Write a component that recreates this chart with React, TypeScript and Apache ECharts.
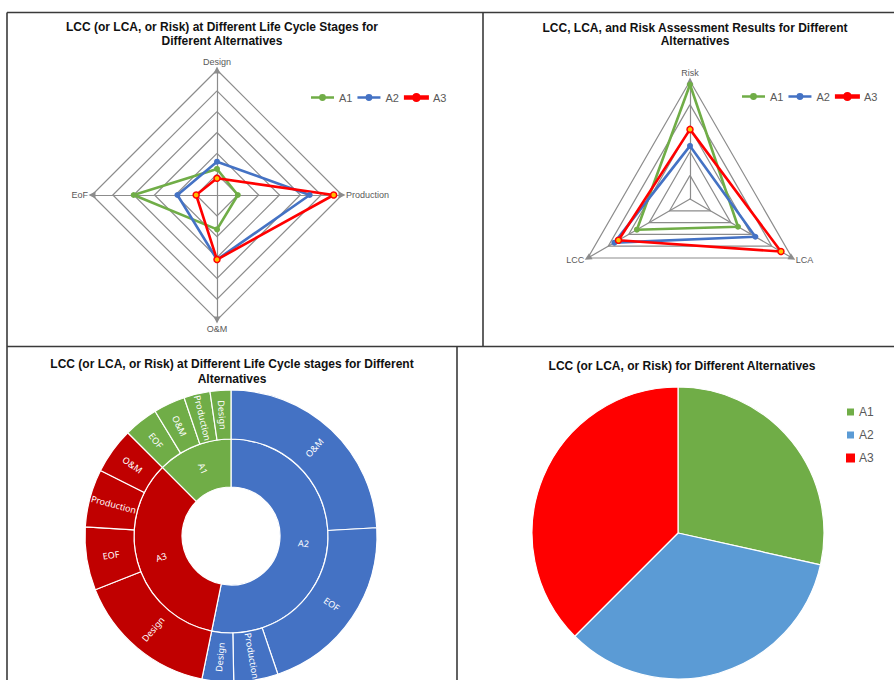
import React, { useEffect, useRef } from 'react';
import * as echarts from 'echarts';

// ---------- data ----------
const alternatives = ['A1', 'A2', 'A3'];
const altLineColors = ['#70AD47', '#4472C4', '#FF0000'];

// radar 1: life cycle stages (counter-clockwise from top)
const stageAxes = ['Design', 'EoF', 'O&M', 'Production'];
const stageA1 = [1.25, 4.0, 1.65, 1.0];
const stageA2 = [1.6, 1.9, 3.1, 4.45];
const stageA3 = [0.8, 1.0, 3.1, 5.6];
const stageMax = 6;

// radar 2: assessment criteria (counter-clockwise from top)
const criteriaAxes = ['Risk', 'LCC', 'LCA'];
const criteriaA1 = [4.85, 2.6, 2.35];
const criteriaA2 = [2.25, 3.7, 3.2];
const criteriaA3 = [2.95, 3.5, 4.45];
const criteriaMax = 5;

// sunburst
const sunburstParents = ['A2', 'A3', 'A1'];
const sunburstColors = ['#4472C4', '#C00000', '#70AD47'];
const a2Stages = ['O&M', 'EOF', 'Production', 'Design'];
const a2StageValues = [24.1, 20.7, 4.9, 3.5];
const a3Stages = ['Design', 'EOF', 'Production', 'O&M'];
const a3StageValues = [15.8, 7.0, 6.4, 5.1];
const a1Stages = ['EOF', 'O&M', 'Production', 'Design'];
const a1StageValues = [3.8, 3.5, 2.9, 2.3];

// pie
const pieNames = ['A1', 'A2', 'A3'];
const pieValues = [28.5, 34, 37.5];
const pieColors = ['#70AD47', '#5B9BD5', '#FF0000'];

// titles
const title1 = 'LCC (or LCA, or Risk) at Different Life Cycle Stages for\nDifferent Alternatives';
const title2 = 'LCC, LCA, and Risk Assessment Results for Different\nAlternatives';
const title3 = 'LCC (or LCA, or Risk) at Different Life Cycle stages for Different\nAlternatives';
const title4 = 'LCC (or LCA, or Risk) for Different Alternatives';

const LINE_ICON = 'path://M0,3H20V5H0Z M7,4a3,3 0 1,1 6,0a3,3 0 1,1 -6,0Z';

export default function App() {
  const ref = useRef<HTMLDivElement>(null);

  useEffect(() => {
    document.body.style.margin = '0';
    const chart = echarts.init(ref.current!, null, { renderer: 'svg', width: 894, height: 680 });

    const stageSeries = [stageA1, stageA2, stageA3];
    const criteriaSeries = [criteriaA1, criteriaA2, criteriaA3];

    const radarItem = (vals: number[], i: number) => ({
      name: alternatives[i],
      value: vals,
      symbol: 'circle',
      symbolSize: 6,
      lineStyle: { color: altLineColors[i], width: 2.6 },
      itemStyle:
        i === 2
          ? { color: '#FFC000', borderColor: '#FF0000', borderWidth: 1.5 }
          : { color: altLineColors[i] },
    });

    const radarCommon = {
      shape: 'polygon',
      startAngle: 90,
      axisName: { color: '#595959', fontSize: 9, fontFamily: 'Liberation Sans' },
      nameGap: 4,
      splitArea: { show: false },
      splitLine: { lineStyle: { color: '#8C8C8C', width: 1.2 } },
      axisLine: {
        lineStyle: { color: '#8C8C8C', width: 1.2 },
        symbol: ['none', 'triangle'],
        symbolSize: [7, 7],
      },
    };

    const legendRadarData = alternatives.map((n, i) => ({
      name: n,
      itemStyle: { color: altLineColors[i] },
    }));

    const buildChildren = (names: string[], vals: number[], color: string) =>
      names.map((n, i) => ({ name: n, value: vals[i], itemStyle: { color } }));

    const childNames = [a2Stages, a3Stages, a1Stages];
    const childVals = [a2StageValues, a3StageValues, a1StageValues];
    const sunburstData = sunburstParents.map((p, i) => ({
      name: p,
      itemStyle: { color: sunburstColors[i] },
      children: buildChildren(childNames[i], childVals[i], sunburstColors[i]),
    }));

    const titleText = (text: string, x: number, y: number, lh: number) => ({
      type: 'text',
      x,
      y,
      silent: true,
      style: {
        text,
        fill: '#111',
        font: 'bold 12px "Liberation Sans", Arial, sans-serif',
        textAlign: 'center',
        align: 'center',
        textVerticalAlign: 'top',
        verticalAlign: 'top',
        lineHeight: lh,
      },
    });

    const border = (x1: number, y1: number, x2: number, y2: number) => ({
      type: 'line',
      silent: true,
      shape: { x1, y1, x2, y2 },
      style: { stroke: '#3A3A3A', lineWidth: 1.6 },
    });

    const option: any = {
      animation: false,
      backgroundColor: '#fff',
      textStyle: { fontFamily: 'Liberation Sans' },
      radar: [
        {
          ...radarCommon,
          center: [217, 195],
          radius: 125,
          splitNumber: 6,
          indicator: stageAxes.map((n) => ({ name: n, min: 0, max: stageMax })),
        },
        {
          ...radarCommon,
          center: [690, 199],
          radius: 118,
          splitNumber: 5,
          indicator: criteriaAxes.map((n) => ({ name: n, min: 0, max: criteriaMax })),
        },
      ],
      legend: [
        {
          left: 311,
          top: 92,
          itemWidth: 23,
          itemHeight: 7,
          itemGap: 5,
          padding: 0,
          icon: LINE_ICON,
          textStyle: { color: '#595959', fontSize: 11, fontFamily: 'Liberation Sans' },
          data: legendRadarData,
        },
        {
          left: 742,
          top: 91,
          itemWidth: 23,
          itemHeight: 7,
          itemGap: 5,
          padding: 0,
          icon: LINE_ICON,
          textStyle: { color: '#595959', fontSize: 11, fontFamily: 'Liberation Sans' },
          data: legendRadarData,
        },
        {
          orient: 'vertical',
          left: 846,
          top: 406,
          itemWidth: 7,
          itemHeight: 7,
          itemGap: 11,
          padding: 0,
          icon: 'rect',
          textStyle: { color: '#595959', fontSize: 12, fontFamily: 'Liberation Sans' },
          data: pieNames.map((n, i) => ({ name: n, itemStyle: { color: pieColors[i] } })),
        },
      ],
      series: [
        {
          type: 'radar',
          radarIndex: 0,
          data: stageSeries.map(radarItem),
        },
        {
          type: 'radar',
          radarIndex: 1,
          data: criteriaSeries.map(radarItem),
        },
        {
          type: 'sunburst',
          center: [231, 536],
          radius: [49, 146],
          sort: null,
          startAngle: 90,
          nodeClick: false,
          itemStyle: { borderColor: '#fff', borderWidth: 1.2 },
          label: { color: '#fff', fontSize: 9, fontFamily: 'Noto Sans', rotate: 'radial' },
          levels: [
            {},
            { r0: 49, r: 97, label: { rotate: 'radial' } },
            { r0: 97, r: 146, label: { rotate: 'radial' } },
          ],
          data: sunburstData,
        },
        {
          type: 'pie',
          center: [678, 533],
          radius: 146,
          startAngle: 90,
          clockwise: true,
          label: { show: false },
          labelLine: { show: false },
          itemStyle: { borderColor: '#fff', borderWidth: 1.2 },
          data: pieNames.map((n, i) => ({ name: n, value: pieValues[i], itemStyle: { color: pieColors[i] } })),
        },
      ],
      graphic: [
        border(7, 12.5, 894, 12.5),
        border(7, 12.5, 7, 680),
        border(483, 12.5, 483, 346.5),
        border(7, 346.5, 894, 346.5),
        border(457, 346.5, 457, 680),
        titleText(title1, 222, 20, 14),
        titleText(title2, 695, 21, 13.5),
        titleText(title3, 232, 356, 15),
        titleText(title4, 682, 359, 14),
      ],
    };

    chart.setOption(option);
    return () => chart.dispose();
  }, []);

  return <div ref={ref} style={{ width: 894, height: 680, background: '#fff' }} />;
}
